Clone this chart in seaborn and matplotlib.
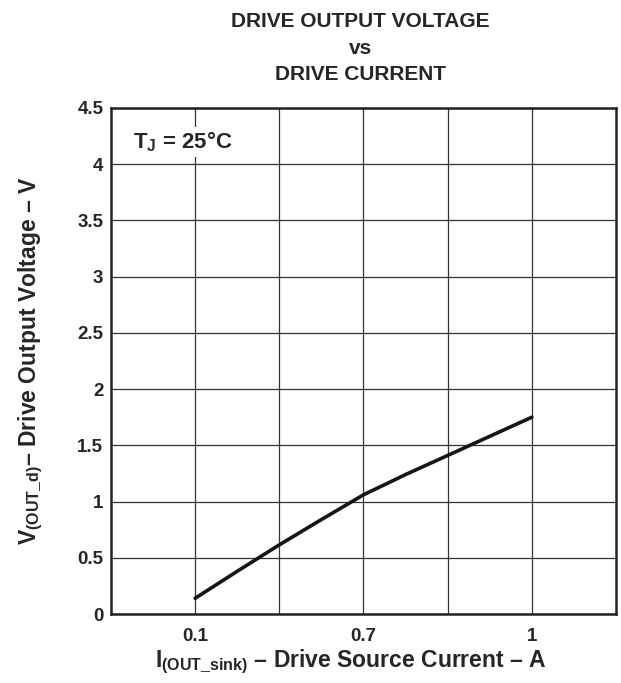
import pandas as pd
import seaborn as sns
import matplotlib.pyplot as plt

# x axis is drawn in grid-column units: 0.1 -> 1, 0.7 -> 3, 1 -> 5
grid_pos = [1, 1.5, 2, 2.5, 3, 3.5, 4, 4.5, 5]
voltage = [0.14, 0.38, 0.615, 0.84, 1.06, 1.24, 1.41, 1.58, 1.75]
tick_pos = [1, 3, 5]
tick_labels = ['0.1', '0.7', '1']
y_ticks = [0, 0.5, 1, 1.5, 2, 2.5, 3, 3.5, 4, 4.5]
y_labels = ['0', '0.5', '1', '1.5', '2', '2.5', '3', '3.5', '4', '4.5']

df = pd.DataFrame({'pos': grid_pos, 'v': voltage})

sns.set_style('white')
plt.rcParams['font.family'] = ['Liberation Sans', 'DejaVu Sans']
plt.rcParams['font.weight'] = 'bold'
plt.rcParams['mathtext.fontset'] = 'custom'
plt.rcParams['mathtext.bf'] = 'Liberation Sans:bold'
plt.rcParams['mathtext.rm'] = 'Liberation Sans:bold'
plt.rcParams['mathtext.default'] = 'bf'

fig = plt.figure(figsize=(6.21, 6.83), dpi=100)
ax = fig.add_axes([0.1787, 0.1010, 0.8132, 0.7409])

sns.lineplot(data=df, x='pos', y='v', ax=ax, color='#161616', linewidth=2.6)

ax.set_xlim(0, 6)
ax.set_ylim(0, 4.5)
ax.set_xticks(tick_pos)
ax.set_xticklabels(tick_labels, fontsize=13.5, fontweight='bold')
ax.set_xticks([2, 4], minor=True)
ax.set_yticks(y_ticks)
ax.set_yticklabels(y_labels, fontsize=13.5, fontweight='bold')
ax.grid(True, which='both', color='#333333', linewidth=0.9)
ax.tick_params(axis='x', which='both', length=0, pad=10)
ax.tick_params(axis='y', which='both', length=0, pad=5.5)
for s in ax.spines.values():
    s.set_color('#222222')
    s.set_linewidth(1.8)

ax.set_xlabel(r'$I_{(OUT\_sink)}$ – Drive Source Current – A', fontsize=16.5,
              fontweight='bold', va='top')
ax.xaxis.set_label_coords(0.474, -0.066)
ax.set_ylabel(r'$V_{(OUT\_d)}$– Drive Output Voltage – V', fontsize=16.5,
              fontweight='bold')
ax.yaxis.set_label_coords(-0.13, 0.5)

ax.text(0.26, 4.2, r'$T_J$ = 25°C', fontsize=16, fontweight='bold',
        va='center', ha='left',
        bbox=dict(facecolor='white', edgecolor='none', pad=2))

fig.text(0.58, 0.982, 'DRIVE OUTPUT VOLTAGE\nvs\nDRIVE CURRENT', ha='center',
         va='top', fontsize=15, fontweight='bold', linespacing=1.5)

plt.savefig('out.png', dpi=100)
